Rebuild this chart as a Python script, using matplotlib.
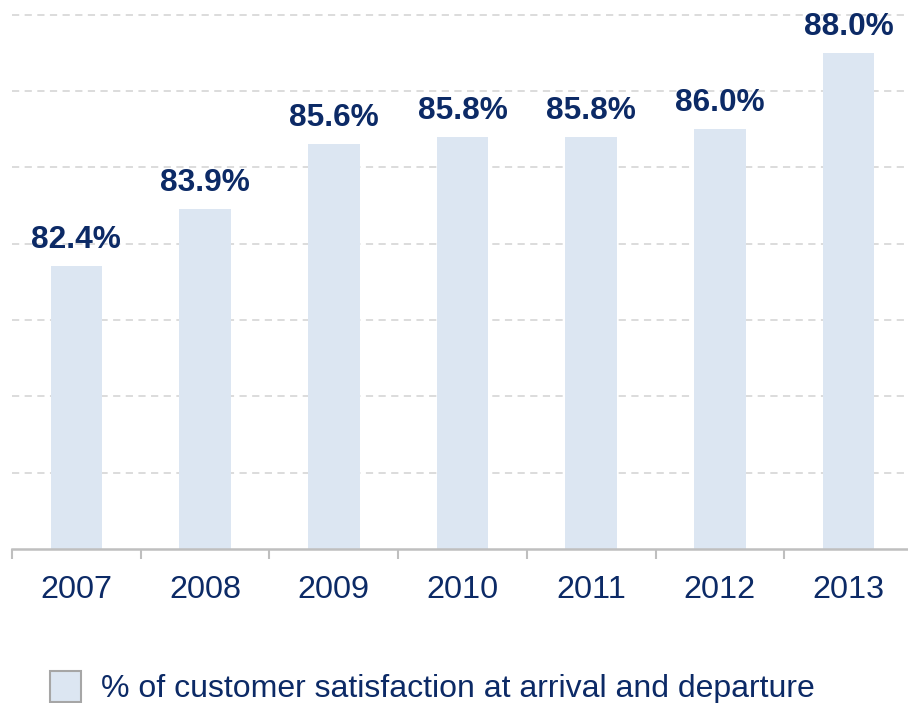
import numpy as np
import matplotlib.pyplot as plt

years = ['2007', '2008', '2009', '2010', '2011', '2012', '2013']
satisfaction = [82.4, 83.9, 85.6, 85.8, 85.8, 86.0, 88.0]
labels = ['82.4%', '83.9%', '85.6%', '85.8%', '85.8%', '86.0%', '88.0%']

navy = '#0c2a66'
bar_col = '#dce6f2'

plt.rcParams['font.family'] = ['Liberation Sans', 'DejaVu Sans']

fig = plt.figure(figsize=(9.08, 7.03), dpi=100)
ax = fig.add_axes([12/908, 154/703, 901/908, 549/703])

x = np.arange(len(years))
bars = ax.bar(x, satisfaction, width=0.4, bottom=0, color=bar_col, zorder=2,
              label='% of customer satisfaction at arrival and departure')

for xi, v, lab in zip(x, satisfaction, labels):
    ax.annotate(lab, (xi, v), xytext=(0, 13), textcoords='offset points',
                ha='center', va='baseline', fontsize=22.8, fontweight='bold',
                color=navy, clip_on=False)

ax.set_xlim(-0.5, 6.5)
ax.set_ylim(75, 89.38)
ax.set_yticks(np.arange(77, 90, 2))
ax.yaxis.grid(True, color='#d9d9d9', linestyle=(0, (4, 3)), linewidth=1.3, zorder=0)
ax.set_axisbelow(True)

ax.set_xticks(np.arange(-0.5, 7, 1))
ax.set_xticklabels([])
ax.set_xticks(x, minor=True)
ax.set_xticklabels(years, minor=True, fontsize=23.3, color=navy)
ax.tick_params(axis='x', which='major', length=7, width=1.5, color='#bfbfbf')
ax.tick_params(axis='x', which='minor', length=0, pad=19)
ax.tick_params(axis='y', left=False, labelleft=False)

for s in ['top', 'right', 'left']:
    ax.spines[s].set_visible(False)
ax.spines['bottom'].set_color('#bfbfbf')
ax.spines['bottom'].set_linewidth(1.8)

leg = fig.legend(handles=[bars.patches[0]], labels=[bars.get_label()],
                 loc='lower left', bbox_to_anchor=(50/908, -1.5/703),
                 frameon=False, fontsize=23, borderpad=0, borderaxespad=0,
                 handlelength=0.98, handleheight=1.1, handletextpad=0.62,
                 labelcolor=navy)
leg.legend_handles[0].set_edgecolor('#a6a6a6')
leg.legend_handles[0].set_linewidth(1.5)

fig.savefig('out.png', dpi=100)
